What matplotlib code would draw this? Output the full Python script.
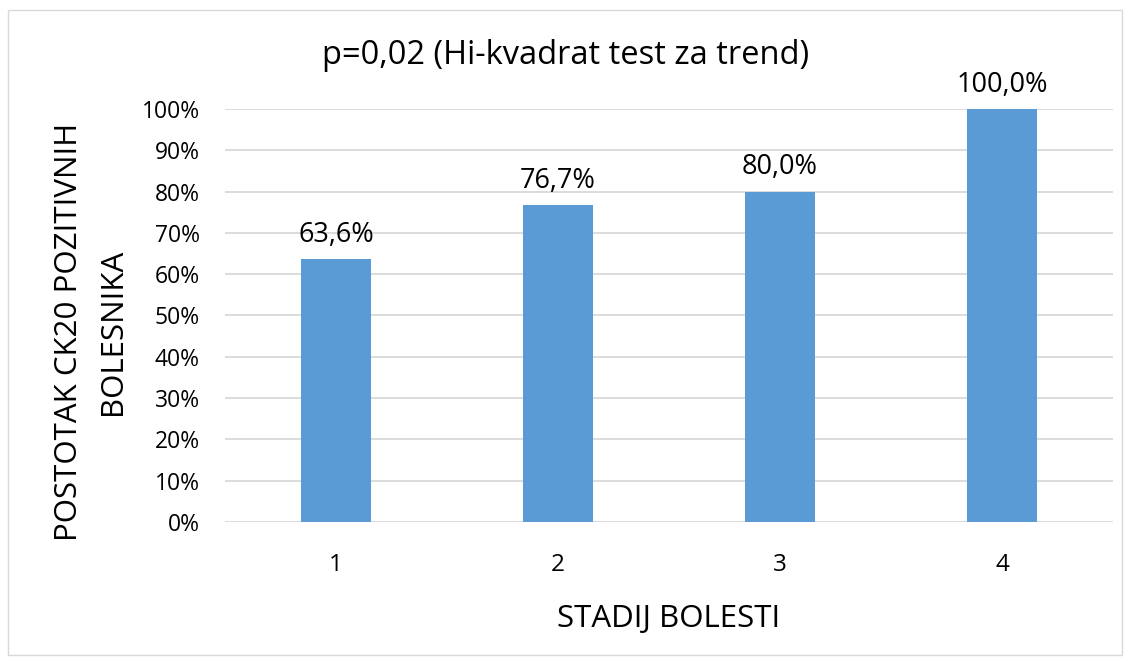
import matplotlib.pyplot as plt
from matplotlib.patches import Rectangle

plt.rcParams['font.family'] = ['Open Sans', 'DejaVu Sans']

stadij = ['1', '2', '3', '4']
postotak = [63.6, 76.7, 80.0, 100.0]
yticks = [0, 10, 20, 30, 40, 50, 60, 70, 80, 90, 100]

fig = plt.figure(figsize=(11.31, 6.64), dpi=100)
ax = fig.add_axes([0.1989, 0.2139, 0.7852, 0.6219])

x = range(len(stadij))
ax.bar(x, postotak, width=0.315, color='#5B9BD5', zorder=3)
for i, v in enumerate(postotak):
    ax.text(i, v + 2.5, f'{v:.1f}%'.replace('.', ','), ha='center', va='bottom',
            fontsize=19.5, color='#000000')

ax.set_xlim(-0.5, len(stadij) - 0.5)
ax.set_ylim(0, 100)
ax.set_xticks(list(x))
ax.set_xticklabels(stadij, fontsize=17.5)
ax.set_yticks(yticks)
ax.set_yticklabels([f'{t}%' for t in yticks], fontsize=16.5)
ax.tick_params(length=0)
ax.tick_params(axis='y', pad=18)
ax.tick_params(axis='x', pad=22)
ax.grid(axis='y', color='#D9D9D9', linewidth=1.3, zorder=0)
for s in ax.spines.values():
    s.set_visible(False)

ax.set_xlabel('STADIJ BOLESTI', fontsize=22.5, labelpad=20)
ax.set_ylabel('POSTOTAK CK20 POZITIVNIH\nBOLESNIKA', fontsize=22.5,
              linespacing=1.6)
ax.yaxis.set_label_coords(-0.109, 0.46)
fig.text(0.5, 0.917, 'p=0,02 (Hi-kvadrat test za trend)', ha='center',
         va='center', fontsize=23.5)

fig.patches.append(Rectangle((8 / 1131, 1 - 655 / 664), 1114 / 1131, 645 / 664,
                             transform=fig.transFigure, fill=False,
                             edgecolor='#D9D9D9', linewidth=1))

fig.savefig('out.png', dpi=100)
